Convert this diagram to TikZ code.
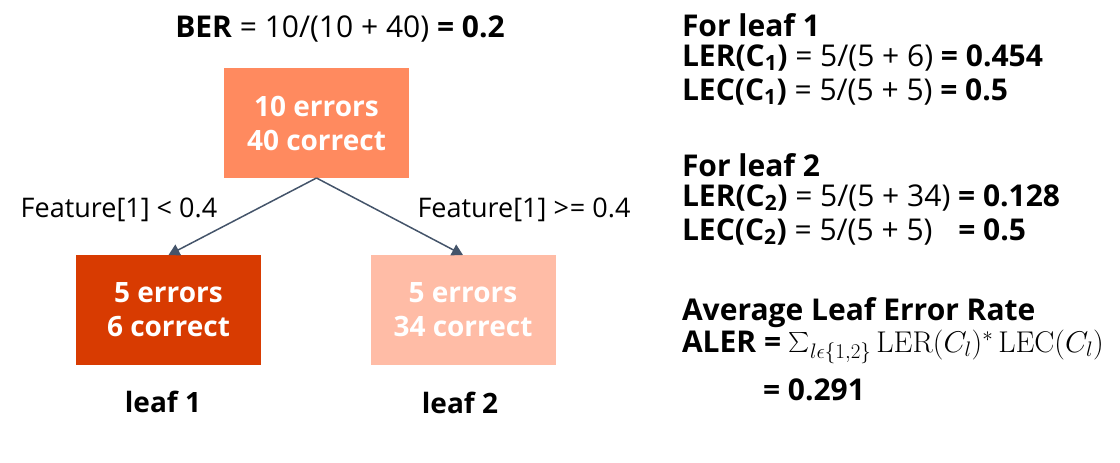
\RequirePackage{fix-cm}
\documentclass[tikz,border=0pt]{standalone}
\usepackage[no-math]{fontspec}
\usepackage{graphicx}
\setmainfont{Open Sans}
\usetikzlibrary{arrows.meta}
\definecolor{rootc}{HTML}{FF8A5F}
\definecolor{leafa}{HTML}{D83B01}
\definecolor{leafb}{HTML}{FFBCA6}
\definecolor{connc}{HTML}{44546A}
\newcommand{\fs}{\fontsize{30}{35}\selectfont}
\newcommand{\fb}{\fontsize{28}{34}\selectfont}
\newcommand{\ff}{\fontsize{27}{32}\selectfont}
\newcommand{\fm}{\fontsize{30}{35}\selectfont}
\newcommand{\bigsum}{\mathop{\vcenter{\hbox{\scalebox{2.0}{$\sum$}}}}\nolimits}
\begin{document}
\begin{tikzpicture}[x=1pt,y=-1pt,
  every node/.style={inner sep=0pt, outer sep=0pt, font=\fs},
  box/.style={rectangle, minimum width=185pt, minimum height=110pt, text=white, font=\fb\bfseries, align=center},
  conn/.style={draw=connc, line width=1.5pt, -{Triangle[width=12pt,length=11pt]}},
  lbl/.style={anchor=base},
  txt/.style={anchor=base west}]
\useasboundingbox (0,0) rectangle (1120,463);
\node[box, fill=rootc] (root) at (316.5,123) {10 errors\\40 correct};
\node[box, fill=leafa] (l1) at (168.5,310) {5 errors\\6 correct};
\node[box, fill=leafb] (l2) at (463,310) {5 errors\\34 correct};
\draw[conn] (root.south) -- (l1.north);
\draw[conn] (root.south) -- (l2.north);
\node[lbl, font=\ff] (f1) at (119,217) {Feature[1] < 0.4};
\node[lbl, font=\ff] (f2) at (524,217) {Feature[1] >\kern1pt= 0.4};
\node[lbl] (ber) at (340,37) {\textbf{BER} = 10/(10 + 40) \textbf{= 0.2}};
\node[lbl, font=\fb] (n1) at (163,412) {\textbf{leaf 1}};
\node[lbl, font=\fb] (n2) at (460,413) {\textbf{leaf 2}};
\node[txt] (a1) at (682,36) {\textbf{For leaf 1}};
\node[txt] (a2) at (682,66) {\textbf{LER(C\textsubscript{1})} = 5/(5 + 6) \textbf{= 0.454}};
\node[txt] (a3) at (682,100) {\textbf{LEC(C\textsubscript{1})} = 5/(5 + 5) \textbf{= 0.5}};
\node[txt] (b1) at (682,176) {\textbf{For leaf 2}};
\node[txt] (b2) at (682,206) {\textbf{LER(C\textsubscript{2})} = 5/(5 + 34) \textbf{= 0.128}};
\node[txt] (b3) at (682,240) {\textbf{LEC(C\textsubscript{2})} = 5/(5 + 5)\hspace{0.6em} \textbf{= 0.5}};
\node[txt] (c1) at (682,320) {\textbf{Average Leaf Error Rate}};
\node[txt] (c2) at (682,352) {\textbf{ALER =} {\fm$\bigsum_{l\epsilon\{1,2\}}\mathrm{LER}(C_l)^*\,\mathrm{LEC}(C_l)$}};
\node[txt] (c3) at (763,400) {\textbf{= 0.291}};
\end{tikzpicture}
\end{document}
